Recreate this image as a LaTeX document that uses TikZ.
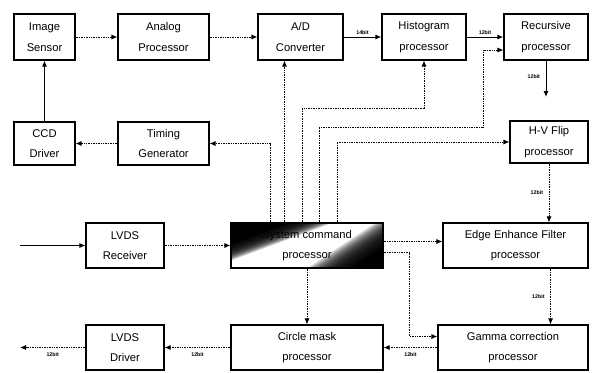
\documentclass[tikz,border=0pt]{standalone}
\usepackage{fontspec}
\setmainfont{Liberation Sans}
\usetikzlibrary{arrows.meta,calc}
\begin{document}
\begin{tikzpicture}[x=1pt,y=-1pt,
  box/.style={draw=black,line width=1.1pt,fill=white,inner sep=0pt,align=center,
    font=\fontsize{11.2}{20.5}\selectfont},
  dl/.style={line width=0.9pt,dash pattern=on 1pt off 0.7pt,-{Latex[length=6pt,width=5pt]}},
  sl/.style={line width=1pt,-{Latex[length=6pt,width=5pt]}},
  bit/.style={font=\fontsize{5.3}{6}\selectfont\bfseries,inner sep=1.5pt}]
\useasboundingbox (0,0) rectangle (594,372);
% shading of the system command box (nested translucent layers)
\begin{scope}
  \clip (231,223) rectangle (383,268);
  \fill[white] (231,223) rectangle (383,268);
  % top-left dark area
  \fill[black] ($(231,223)+(-17.5,-47)+(188,-70)$) -- ($(231,223)+(7,18.8)+(188,-70)$) -- ($(231,223)+(7,18.8)+(-188,70)$) -- ($(231,223)+(-17.5,-47)+(-188,70)$) -- cycle;
  \foreach \D in {20,21,...,35} {
    \fill[black,fill opacity=0.2] ($(231,223)+(-17.5,-47)+(188,-70)$) -- ($(231,223)+({0.35*\D},{0.94*\D})+(188,-70)$)
       -- ($(231,223)+({0.35*\D},{0.94*\D})+(-188,70)$) -- ($(231,223)+(-17.5,-47)+(-188,70)$) -- cycle;
  }
  % bottom-right dark area
  \fill[black] ($(383,268)+(27.5,41.5)+(-166,110)$) -- ($(383,268)+(27.5,41.5)+(166,-110)$) -- ($(383,268)-(9.9,14.9)+(166,-110)$) -- ($(383,268)-(9.9,14.9)+(-166,110)$) -- cycle;
  \foreach \D in {18,19,...,42} {
    \fill[black,fill opacity=0.12] ($(383,268)+(27.5,41.5)+(-166,110)$) -- ($(383,268)+(27.5,41.5)+(166,-110)$)
       -- ($(383,268)-({0.55*\D},{0.83*\D})+(166,-110)$) -- ($(383,268)-({0.55*\D},{0.83*\D})+(-166,110)$) -- cycle;
  }
\end{scope}
% boxes
\node[box,minimum width=61pt,minimum height=46pt] (img) at (44.5,37) {Image\\Sensor};
\node[box,minimum width=91pt,minimum height=46pt] (ana) at (163.5,37) {Analog\\Processor};
\node[box,minimum width=85pt,minimum height=46pt] (adc) at (300.5,37) {A/D\\Converter};
\node[box,minimum width=84pt,minimum height=46pt] (his) at (424,37) {Histogram\\processor};
\node[box,minimum width=84pt,minimum height=46pt] (rec) at (546,37) {Recursive\\processor};
\node[box,minimum width=61pt,minimum height=43pt] (ccd) at (44.5,143.5) {CCD\\Driver};
\node[box,minimum width=91pt,minimum height=43pt] (tim) at (163.5,143.5) {Timing\\Generator};
\node[box,minimum width=78pt,minimum height=42pt] (hv) at (549,142) {H-V Flip\\processor};
\node[box,minimum width=78pt,minimum height=45pt] (lvr) at (125,245.5) {LVDS\\Receiver};
\node[box,fill=none,minimum width=152pt,minimum height=45pt] (sys) at (307,245.5) {System command\\processor};
\node[box,minimum width=145pt,minimum height=45pt] (edg) at (515.5,245.5) {Edge Enhance Filter\\processor};
\node[box,minimum width=78pt,minimum height=45pt] (lvd) at (125,347.5) {LVDS\\Driver};
\node[box,minimum width=152pt,minimum height=45pt] (cir) at (307,347.5) {Circle mask\\processor};
\node[box,minimum width=150pt,minimum height=45pt] (gam) at (513,347.5) {Gamma correction\\processor};
% coordinates
\coordinate (in) at (20,245.5);
\coordinate (out) at (20,347.5);
\coordinate (rb) at (546,97);
\coordinate (s1) at ($(sys.north west)+(40,0)$);
\coordinate (s2) at ($(sys.north west)+(54,0)$);
\coordinate (s3) at ($(sys.north west)+(72,0)$);
\coordinate (s4) at ($(sys.north west)+(89,0)$);
\coordinate (s5) at ($(sys.north west)+(107,0)$);
\coordinate (h3) at ($(his.south)+(0,48)$);
\coordinate (r4) at (483,127);
\coordinate (r4e) at ($(rec.west)+(0,13)$);
\coordinate (se) at ($(sys.east)+(0,-4)$);
\coordinate (sg) at ($(sys.east)+(0,7)$);
\coordinate (gw) at ($(gam.west)+(0,-11)$);
\coordinate (gk) at ($(gam.west)+(-28,-11)$);
\coordinate (es) at ($(edg.south east)+(-38,0)$);
% top row
\draw[dl] (img.east) -- (ana.west);
\draw[dl] (ana.east) -- (adc.west);
\draw[sl] (adc.east) -- node[bit,above] {14bit} (his.west);
\draw[sl] (his.east) -- node[bit,above] {12bit} (rec.west);
\draw[sl] (rec.south) -- node[bit,left=4pt,pos=0.45] {12bit} (rb);
\draw[sl] (ccd.north) -- (img.south);
\draw[dl] (tim.west) -- (ccd.east);
% control lines from system
\draw[dl] (s1) |- (tim.east);
\draw[dl] (s2) -- (s2 |- adc.south);
\draw[dl] (s3) |- (h3) -- (his.south);
\draw[dl] (s4) |- (r4) |- (r4e);
\draw[dl] (s5) |- (hv.west);
\draw[dl] (se) -- (se -| edg.west);
\draw[dl] (sg) -| (gk) -- (gw);
\draw[dl] (sys.south) -- (cir.north);
% right chain
\draw[dl] (hv.south) -- node[bit,left=4pt] {12bit} (hv.south |- edg.north);
\draw[dl] (es) -- node[bit,left=4pt] {12bit} (es |- gam.north);
% bottom row
\draw[dl] (gam.west) -- node[bit,below=3pt] {12bit} (cir.east);
\draw[dl] (cir.west) -- node[bit,below=3pt] {12bit} (lvd.east);
\draw[dl] (lvd.west) -- node[bit,below=3pt] {12bit} (out);
\draw[sl] (in) -- (lvr.west);
\draw[dl] (lvr.east) -- (sys.west);
\end{tikzpicture}
\end{document}
